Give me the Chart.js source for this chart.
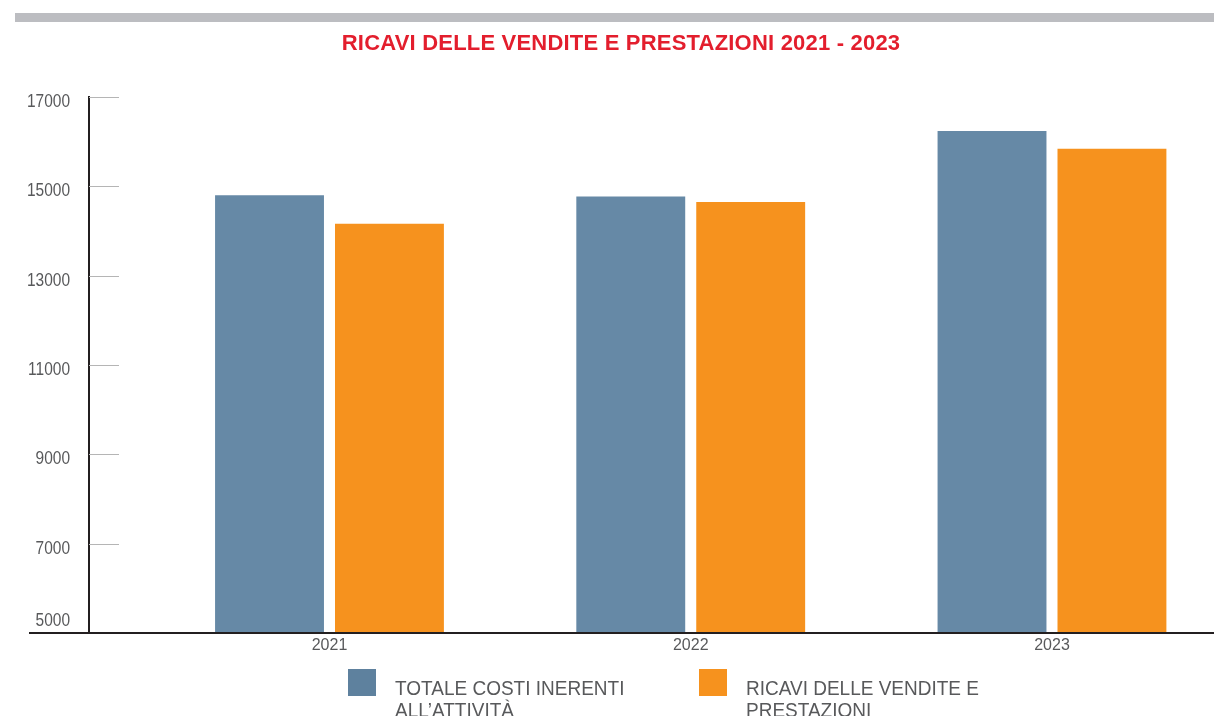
<!DOCTYPE html>
<html>
<head>
<meta charset="utf-8">
<script src="https://cdn.jsdelivr.net/npm/chart.js@4.4.1/dist/chart.umd.min.js"></script>
<style>
  html, body { margin: 0; padding: 0; background: #fff; overflow: hidden; }
</style>
</head>
<body>
<canvas id="barChart" width="1214" height="716"></canvas>
<script>
// ---------------- data ----------------
const years = [2021, 2022, 2023];
const costiTotali = [14800, 14770, 16240];
const ricaviVendite = [14160, 14650, 15840];
const yTicks = [5000, 7000, 9000, 11000, 13000, 15000, 17000];
const seriesNames = [
  ['TOTALE COSTI INERENTI', 'ALL\u2019ATTIVIT\u00C0'],
  ['RICAVI DELLE VENDITE E', 'PRESTAZIONI']
];
const chartTitle = 'RICAVI DELLE VENDITE E PRESTAZIONI 2021 - 2023';

const blue = '#6689a6';
const orange = '#f6921e';
const grey = '#58595b';
const sans = "'Liberation Sans', Arial, sans-serif";

// ---------------- extras: band, title, axis bits, legend ----------------
const decorations = {
  id: 'decorations',
  beforeDraw(chart) {
    const ctx = chart.ctx;
    ctx.save();
    ctx.fillStyle = '#bcbdc1';
    ctx.fillRect(15, 13, 1199, 9);
    ctx.fillStyle = '#e31e2d';
    ctx.font = 'bold 22px ' + sans;
    ctx.letterSpacing = '0.2px';
    ctx.textAlign = 'center';
    ctx.textBaseline = 'alphabetic';
    ctx.fillText(chartTitle, 621, 50);
    ctx.restore();
  },
  afterDraw(chart) {
    const ctx = chart.ctx;
    const y = chart.scales.y;
    const area = chart.chartArea;
    ctx.save();

    // y ticks: short marks inside the plot + labels (slightly condensed)
    ctx.font = '18px ' + sans;
    ctx.fillStyle = grey;
    ctx.textAlign = 'right';
    ctx.textBaseline = 'alphabetic';
    y.ticks.forEach(t => {
      const py = Math.round(y.getPixelForValue(t.value));
      const ly = t.value === y.min ? py - 7 : py + 10;
      ctx.save();
      ctx.translate(70, ly);
      ctx.scale(0.86, 1);
      ctx.fillText(String(t.value), 0, 0);
      ctx.restore();
      if (t.value !== y.min) {
        ctx.strokeStyle = '#b5b5b5';
        ctx.lineWidth = 1;
        ctx.beginPath();
        ctx.moveTo(area.left, py + 0.5);
        ctx.lineTo(area.left + 30, py + 0.5);
        ctx.stroke();
      }
    });

    // x axis line, runs past the y axis
    ctx.strokeStyle = '#231f20';
    ctx.lineWidth = 2;
    ctx.beginPath();
    ctx.moveTo(29, area.bottom);
    ctx.lineTo(chart.width, area.bottom);
    ctx.stroke();

    // legend
    const items = [
      { x: 348, color: '#5e819e', lines: seriesNames[0] },
      { x: 699, color: orange, lines: seriesNames[1] }
    ];
    ctx.font = '20px ' + sans;
    ctx.textAlign = 'left';
    items.forEach(it => {
      ctx.fillStyle = it.color;
      ctx.fillRect(it.x, 669, 28, 27);
      ctx.fillStyle = grey;
      it.lines.forEach((line, i) => {
        ctx.save();
        ctx.translate(it.x + 47, 695 + i * 22);
        ctx.scale(0.95, 1);
        ctx.fillText(line, 0, 0);
        ctx.restore();
      });
    });
    ctx.restore();
  }
};

const toPoints = vals => years.map((yr, i) => ({ x: yr, y: vals[i] }));

new Chart(document.getElementById('barChart'), {
  type: 'bar',
  data: {
    datasets: [
      {
        label: seriesNames[0].join(' '),
        data: toPoints(costiTotali),
        backgroundColor: blue,
        barPercentage: 0.908,
        categoryPercentage: 0.664
      },
      {
        label: seriesNames[1].join(' '),
        data: toPoints(ricaviVendite),
        backgroundColor: orange,
        barPercentage: 0.908,
        categoryPercentage: 0.664
      }
    ]
  },
  options: {
    responsive: false,
    animation: false,
    devicePixelRatio: 1,
    layout: { padding: { top: 97, right: 0, bottom: 0, left: 0 } },
    plugins: {
      legend: { display: false },
      title: { display: false },
      tooltip: { enabled: false }
    },
    scales: {
      x: {
        type: 'linear',
        offset: false,
        min: years[0] - 0.6657,
        max: years[years.length - 1] + 0.4485,
        grid: { display: false, offset: false },
        border: { display: false },
        ticks: {
          stepSize: 1,
          includeBounds: false,
          padding: -5,
          color: grey,
          font: { family: sans, size: 16 },
          callback: v => String(v)
        },
        afterFit: s => { s.height = 83; }
      },
      y: {
        min: yTicks[0],
        max: yTicks[yTicks.length - 1],
        afterBuildTicks: s => { s.ticks = yTicks.map(v => ({ value: v })); },
        grid: { display: false, drawTicks: false },
        border: { display: true, color: '#231f20', width: 2 },
        ticks: { display: false },
        afterFit: s => { s.width = 89; }
      }
    }
  },
  plugins: [decorations]
});
</script>
</body>
</html>
